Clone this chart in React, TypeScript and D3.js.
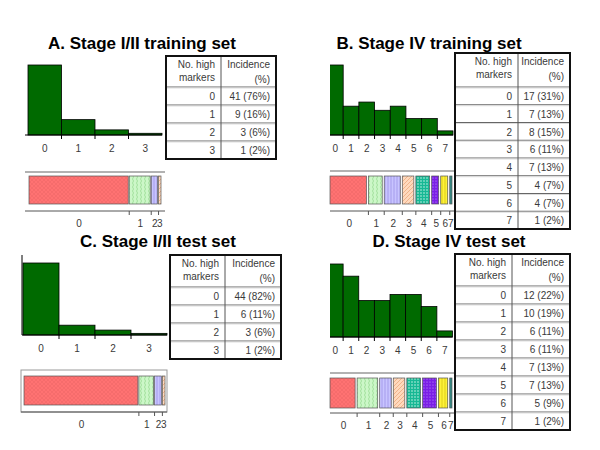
import React, { useEffect, useRef } from "react";
import * as d3 from "d3";

// chart data
const titleA = "A. Stage I/II training set";
const titleB = "B. Stage IV training set";
const titleC = "C. Stage I/II test set";
const titleD = "D. Stage IV test set";

const markers4 = ["0", "1", "2", "3"];
const markers8 = ["0", "1", "2", "3", "4", "5", "6", "7"];

const countsA = [41, 9, 3, 1];
const pctA = ["76%", "16%", "6%", "2%"];
const countsB = [17, 7, 8, 6, 7, 4, 4, 1];
const pctB = ["31%", "13%", "15%", "11%", "13%", "7%", "7%", "2%"];
const countsC = [44, 6, 3, 1];
const pctC = ["82%", "11%", "6%", "2%"];
const countsD = [12, 10, 6, 6, 7, 7, 5, 1];
const pctD = ["22%", "19%", "11%", "11%", "13%", "13%", "9%", "2%"];

const headerLeft = ["No. high", "markers"];
const headerRight = ["Incidence", "(%)"];

// layout per panel
const panels = [
  {
    title: titleA, cats: markers4, counts: countsA, pct: pctA,
    tx: 142, ty: 49,
    hist: { x0: 28, x1: 162, ax: 25, top: 65, base: 135, leftAxis: false, clip: 0 },
    strip: { x0: 29, x1: 161, fx0: 25, fx1: 165, top: 172, y0: 176, y1: 204, axis: 211, box: false, gap: 1 },
    table: { x: 166, y: 56, w: 110, split: 55, head: 31, row: 18 },
  },
  {
    title: titleB, cats: markers8, counts: countsB, pct: pctB,
    tx: 429, ty: 49,
    hist: { x0: 327.5, x1: 453, ax: 330, top: 65, base: 135, leftAxis: false, clip: 330 },
    strip: { x0: 330, x1: 452, fx0: 330, fx1: 455, top: 171, y0: 176, y1: 204, axis: 211, box: false, gap: 2 },
    table: { x: 455, y: 53, w: 115, split: 63, head: 34, row: 17.75 },
  },
  {
    title: titleC, cats: markers4, counts: countsC, pct: pctC,
    tx: 158, ty: 247,
    hist: { x0: 23, x1: 167, ax: 22, top: 263, base: 335, leftAxis: true, clip: 0 },
    strip: { x0: 24, x1: 165, fx0: 21, fx1: 167, top: 370, y0: 376, y1: 405, axis: 412, box: true, gap: 1 },
    table: { x: 170, y: 255, w: 111, split: 55, head: 32, row: 18 },
  },
  {
    title: titleD, cats: markers8, counts: countsD, pct: pctD,
    tx: 449, ty: 247,
    hist: { x0: 327.5, x1: 452.5, ax: 330, top: 264, base: 337, leftAxis: false, clip: 330 },
    strip: { x0: 330, x1: 452, fx0: 330, fx1: 455, top: 373, y0: 378, y1: 408, axis: 413, box: false, gap: 2 },
    table: { x: 455, y: 254, w: 115, split: 57, head: 32, row: 18 },
  },
];

const FONT = "'Liberation Sans', Arial, sans-serif";
const TXT = "#3a3a3a";

export default function App() {
  const ref = useRef<SVGSVGElement>(null);

  useEffect(() => {
    const svg = d3.select(ref.current);
    svg.selectAll("*").remove();

    // fill patterns for the stacked strips
    const defs = svg.append("defs");
    const pat = (id: string, bg: string, draw: (p: any) => void, size = 4) => {
      const p = defs
        .append("pattern")
        .attr("id", id)
        .attr("patternUnits", "userSpaceOnUse")
        .attr("width", size)
        .attr("height", size);
      p.append("rect").attr("width", size).attr("height", size).attr("fill", bg);
      draw(p);
    };
    pat("p0", "#ff7272", (p) =>
      p.append("path").attr("d", "M0,0L4,4M4,0L0,4").attr("stroke", "#f06868").attr("stroke-width", 0.6)
    );
    pat("p1", "#ccf7c8", (p) =>
      p.append("path").attr("d", "M1,0Q2,1 1,2Q0,3 1,4").attr("fill", "none").attr("stroke", "#8fd68a").attr("stroke-width", 0.7)
    );
    pat("p2", "#c8c4ff", (p) =>
      p.append("path").attr("d", "M1,0V4").attr("stroke", "#9a90e6").attr("stroke-width", 0.8)
    , 3);
    pat("p3", "#ffd9bd", (p) =>
      p.append("path").attr("d", "M0,4L4,0M-1,1L1,-1M3,5L5,3").attr("stroke", "#e8a276").attr("stroke-width", 0.7)
    );
    pat("p4", "#16b894", (p) =>
      p.append("circle").attr("cx", 1).attr("cy", 1).attr("r", 0.7).attr("fill", "#e8fff6")
    , 3);
    pat("p5", "#7a1ee6", (p) =>
      p.append("circle").attr("cx", 1).attr("cy", 1).attr("r", 0.6).attr("fill", "#c8a0ff")
    , 3);
    pat("p6", "#fff23a", (p) =>
      p.append("path").attr("d", "M1,0V3").attr("stroke", "#c8b800").attr("stroke-width", 0.6)
    , 3);
    pat("p7", "#1e7a78", (p) =>
      p.append("path").attr("d", "M1,0V3").attr("stroke", "#6fb0a8").attr("stroke-width", 0.6)
    , 3);

    panels.forEach((pn, pi) => {
      const g = svg.append("g");

      // title
      g.append("text")
        .attr("x", pn.tx)
        .attr("y", pn.ty)
        .attr("text-anchor", "middle")
        .attr("font-family", FONT)
        .attr("font-weight", "bold")
        .attr("font-size", 17)
        .attr("fill", "#000")
        .text(pn.title);

      // histogram
      const h = pn.hist;
      const x = d3.scaleBand().domain(pn.cats).range([h.x0, h.x1]).padding(0);
      const y = d3
        .scaleLinear()
        .domain([0, d3.max(pn.counts) as number])
        .range([h.base, h.top]);
      const hg = g.append("g");
      if (h.clip) {
        const cid = `clip${pi}`;
        defs.append("clipPath").attr("id", cid)
          .append("rect").attr("x", h.clip).attr("y", 0).attr("width", 200).attr("height", 450);
        hg.attr("clip-path", `url(#${cid})`);
      }
      hg.selectAll("rect")
        .data(pn.counts)
        .join("rect")
        .attr("x", (d, i) => x(pn.cats[i]) as number)
        .attr("y", (d) => y(d))
        .attr("width", x.bandwidth())
        .attr("height", (d) => h.base - y(d))
        .attr("fill", "#006a00")
        .attr("stroke", "#000")
        .attr("stroke-width", 0.8);
      g.append("line")
        .attr("x1", h.ax).attr("x2", h.x1)
        .attr("y1", h.base).attr("y2", h.base)
        .attr("stroke", "#000");
      if (h.leftAxis) {
        g.append("line")
          .attr("x1", h.ax).attr("x2", h.ax)
          .attr("y1", h.top - 8).attr("y2", h.base)
          .attr("stroke", "#000");
      }
      g.selectAll(".htick")
        .data(pn.cats.slice(1))
        .join("line")
        .attr("x1", (d) => x(d) as number)
        .attr("x2", (d) => x(d) as number)
        .attr("y1", h.base)
        .attr("y2", h.base + 4)
        .attr("stroke", "#000");
      g.selectAll(".hlab")
        .data(pn.cats)
        .join("text")
        .attr("x", (d) => (x(d) as number) + x.bandwidth() / 2)
        .attr("y", h.base + 17)
        .attr("text-anchor", "middle")
        .attr("font-family", FONT)
        .attr("font-size", 10)
        .attr("fill", TXT)
        .text((d) => d);

      // stacked strip
      const s = pn.strip;
      const total = d3.sum(pn.counts);
      const cum = d3.cumsum(pn.counts);
      const sx = d3.scaleLinear().domain([0, total]).range([s.x0, s.x1]);
      const starts = pn.counts.map((c, i) => cum[i] - c);
      if (s.box) {
        g.append("rect")
          .attr("x", s.fx0).attr("y", s.top)
          .attr("width", s.fx1 - s.fx0).attr("height", s.axis - s.top)
          .attr("fill", "none").attr("stroke", "#999");
      } else {
        g.append("line")
          .attr("x1", s.fx0).attr("x2", s.fx1)
          .attr("y1", s.top).attr("y2", s.top)
          .attr("stroke", "#999").attr("stroke-width", 1.5);
      }
      g.append("line")
        .attr("x1", s.fx0).attr("x2", s.fx1)
        .attr("y1", s.axis).attr("y2", s.axis)
        .attr("stroke", "#555");
      g.selectAll(".seg")
        .data(pn.counts)
        .join("rect")
        .attr("x", (d, i) => sx(starts[i]))
        .attr("y", s.y0)
        .attr("width", (d, i) => Math.max(0.8, sx(cum[i]) - sx(starts[i]) - (i < pn.counts.length - 1 ? s.gap : 0)))
        .attr("height", s.y1 - s.y0)
        .attr("fill", (d, i) => `url(#p${i})`)
        .attr("stroke", "#555")
        .attr("stroke-width", 0.7);
      g.selectAll(".stick")
        .data(cum.slice(0, -1))
        .join("line")
        .attr("x1", (d) => sx(d))
        .attr("x2", (d) => sx(d))
        .attr("y1", s.axis)
        .attr("y2", s.axis + 4)
        .attr("stroke", "#555");
      g.selectAll(".slab")
        .data(pn.cats)
        .join("text")
        .attr("x", (d, i) => sx(starts[i] + pn.counts[i] / 2))
        .attr("y", s.axis + 16)
        .attr("text-anchor", "middle")
        .attr("font-family", FONT)
        .attr("font-size", 10)
        .attr("fill", TXT)
        .text((d) => d);

      // table
      const t = pn.table;
      const tg = g.append("g").attr("transform", `translate(${t.x},${t.y})`);
      const n = pn.cats.length;
      const th = t.head + n * t.row;
      tg.append("rect").attr("width", t.w).attr("height", th).attr("fill", "#fff");
      d3.range(n).forEach((i) => {
        const yy = t.head + i * t.row;
        tg.append("line").attr("x1", 0).attr("x2", t.w).attr("y1", yy).attr("y2", yy).attr("stroke", "#666");
        tg.append("line").attr("x1", 0).attr("x2", t.w).attr("y1", yy + 1).attr("y2", yy + 1).attr("stroke", "#ddd");
      });
      tg.append("line").attr("x1", t.split).attr("x2", t.split).attr("y1", 0).attr("y2", th).attr("stroke", "#555");
      const txt = (xx: number, yy: number, s2: string) =>
        tg.append("text")
          .attr("x", xx).attr("y", yy)
          .attr("text-anchor", "end")
          .attr("font-family", FONT)
          .attr("font-size", 10)
          .attr("fill", TXT)
          .text(s2);
      txt(t.split - 6, 12, headerLeft[0]);
      txt(t.split - 6, 25, headerLeft[1]);
      txt(t.w - 6, 12, headerRight[0]);
      txt(t.w - 6, 27, headerRight[1]);
      pn.cats.forEach((c, i) => {
        const yy = t.head + i * t.row + 13;
        txt(t.split - 6, yy, c);
        txt(t.w - 6, yy, `${pn.counts[i]} (${pn.pct[i]})`);
      });
      tg.append("rect").attr("width", t.w).attr("height", th)
        .attr("fill", "none").attr("stroke", "#111").attr("stroke-width", 2);
    });
  }, []);

  return (
    <svg
      ref={ref}
      width={600}
      height={450}
      style={{ position: "absolute", left: 0, top: 0, background: "#fff" }}
    />
  );
}
